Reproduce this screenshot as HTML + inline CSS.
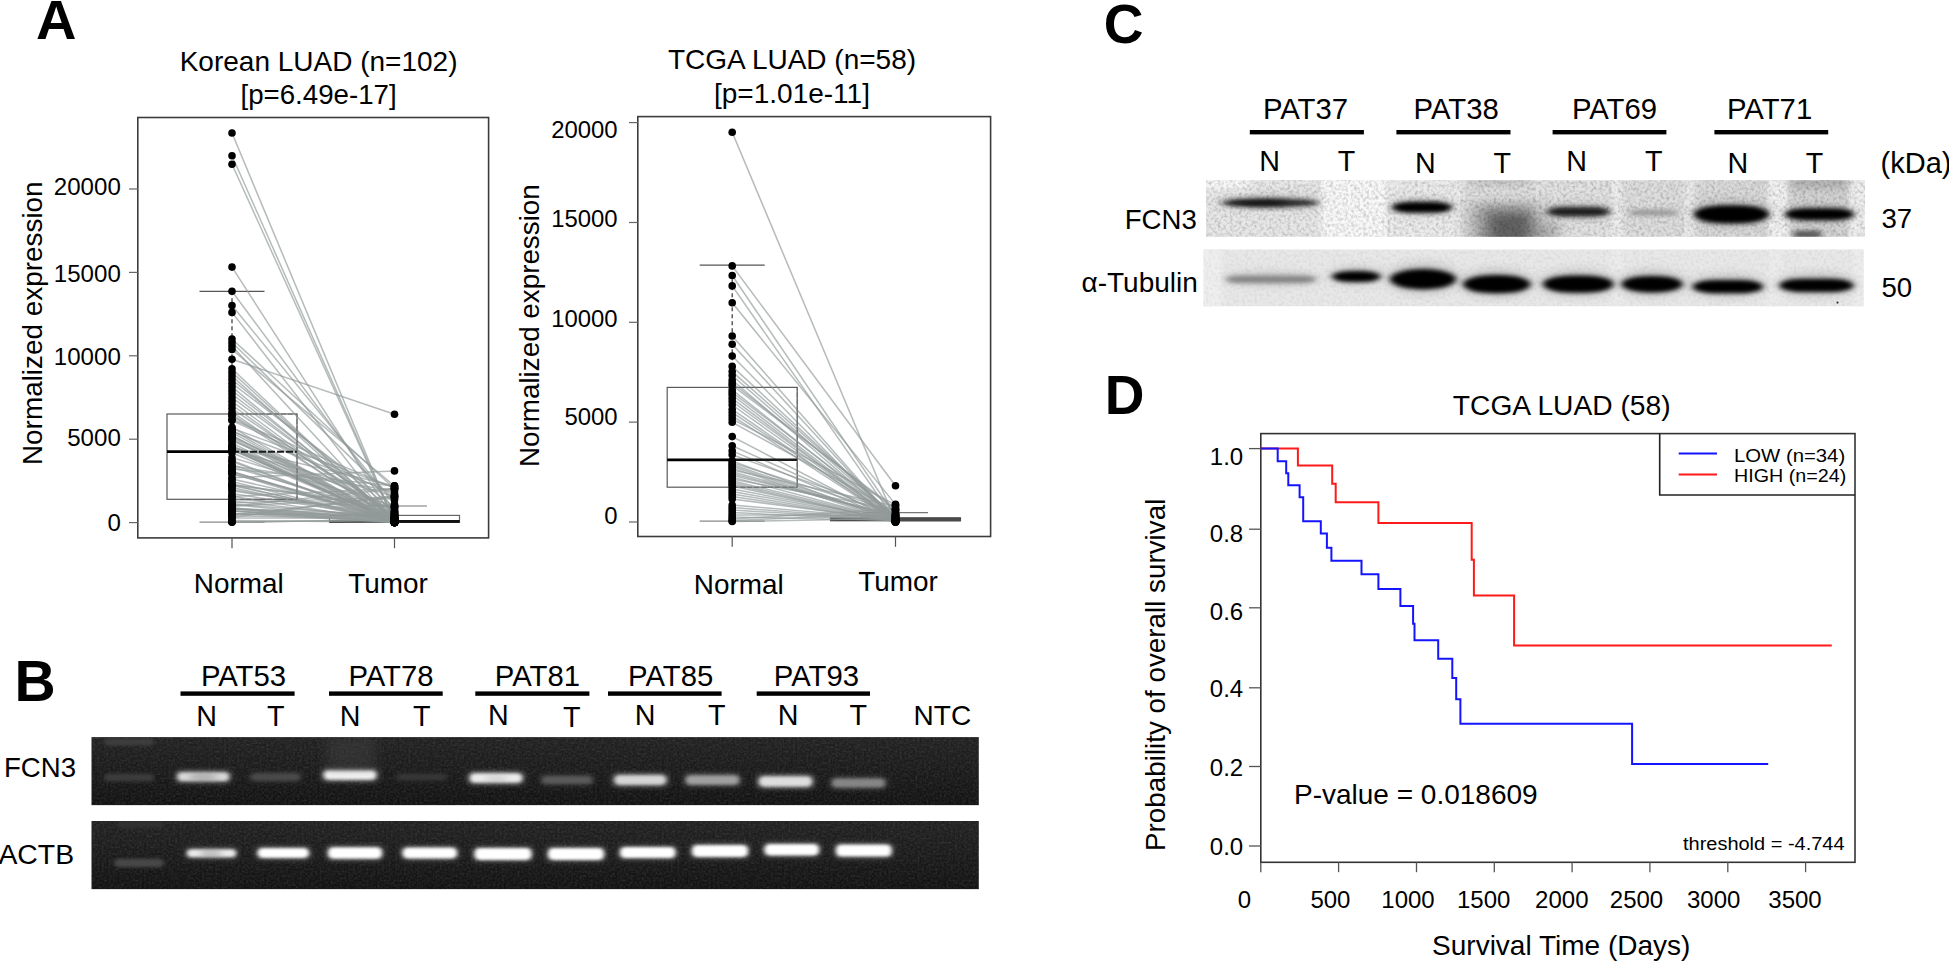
<!DOCTYPE html>
<html lang="en"><head><meta charset="utf-8"><title>FCN3 expression in LUAD</title>
<style>
html,body{margin:0;padding:0;background:#fff;}
body{width:1949px;height:962px;overflow:hidden;}
svg{display:block;font-family:"Liberation Sans", sans-serif;}
svg text{fill:#000;}
</style></head><body>
<svg width="1949" height="962" viewBox="0 0 1949 962">
<rect width="1949" height="962" fill="#fff"/>
<text x="36.0" y="39.2" font-size="56" text-anchor="start" font-weight="bold" >A</text>
<text x="14.6" y="700.8" font-size="57" text-anchor="start" font-weight="bold" >B</text>
<text x="1103.8" y="43.2" font-size="55" text-anchor="start" font-weight="bold" >C</text>
<text x="1104.8" y="414.2" font-size="55" text-anchor="start" font-weight="bold" >D</text>
<g>
<rect x="167.0" y="414.0" width="130.0" height="85.3" fill="none" stroke="#5a5a5a" stroke-width="1.2"/>
<line x1="199.5" x2="264.5" y1="291.3" y2="291.3" stroke="#555" stroke-width="1.2"/>
<line x1="199.5" x2="264.5" y1="522.1" y2="522.1" stroke="#888" stroke-width="1.2"/>
<line x1="232.0" x2="232.0" y1="291.3" y2="414.0" stroke="#333" stroke-width="1.2" stroke-dasharray="4 3"/>
<rect x="329.5" y="515.4" width="130.0" height="6.9" fill="#fff" stroke="#666" stroke-width="1.2"/>
<line x1="362.0" x2="427.0" y1="506.0" y2="506.0" stroke="#777" stroke-width="1.2"/>
<line x1="329.5" x2="459.5" y1="521.4" y2="521.4" stroke="#222" stroke-width="2.6"/>
<g fill="none" stroke="#929999" stroke-width="1.5" stroke-opacity="0.68"><path d="M232.0,133.0L394.5,522.3"/><path d="M232.0,155.7L394.5,521.6"/><path d="M232.0,164.2L394.5,522.4"/><path d="M232.0,267.1L394.5,520.1"/><path d="M232.0,291.3L394.5,510.9"/><path d="M232.0,305.5L394.5,504.2"/><path d="M232.0,312.4L394.5,521.8"/><path d="M232.0,339.0L394.5,488.8"/><path d="M232.0,342.5L394.5,500.1"/><path d="M232.0,346.0L394.5,522.1"/><path d="M232.0,349.5L394.5,486.0"/><path d="M232.0,359.3L394.5,414.2"/><path d="M232.0,412.2L394.5,522.2"/><path d="M232.0,408.6L394.5,517.8"/><path d="M232.0,405.0L394.5,522.6"/><path d="M232.0,401.3L394.5,522.0"/><path d="M232.0,397.7L394.5,515.7"/><path d="M232.0,394.1L394.5,518.2"/><path d="M232.0,390.5L394.5,517.3"/><path d="M232.0,386.9L394.5,521.2"/><path d="M232.0,383.3L394.5,507.1"/><path d="M232.0,379.6L394.5,511.7"/><path d="M232.0,376.0L394.5,522.4"/><path d="M232.0,372.4L394.5,520.7"/><path d="M232.0,368.8L394.5,522.3"/><path d="M232.0,439.5L394.5,522.1"/><path d="M232.0,446.0L394.5,522.6"/><path d="M232.0,427.2L394.5,522.4"/><path d="M232.0,449.0L394.5,522.6"/><path d="M232.0,431.5L394.5,493.1"/><path d="M232.0,437.9L394.5,522.2"/><path d="M232.0,449.5L394.5,522.1"/><path d="M232.0,432.6L394.5,521.3"/><path d="M232.0,450.3L394.5,496.2"/><path d="M232.0,435.4L394.5,520.6"/><path d="M232.0,449.1L394.5,522.1"/><path d="M232.0,448.3L394.5,521.4"/><path d="M232.0,435.7L394.5,522.6"/><path d="M232.0,420.5L394.5,494.9"/><path d="M232.0,447.0L394.5,521.8"/><path d="M232.0,443.3L394.5,521.8"/><path d="M232.0,428.1L394.5,487.9"/><path d="M232.0,416.0L394.5,519.6"/><path d="M232.0,430.0L394.5,522.3"/><path d="M232.0,436.8L394.5,510.4"/><path d="M232.0,414.9L394.5,512.3"/><path d="M232.0,450.0L394.5,521.4"/><path d="M232.0,419.3L394.5,488.1"/><path d="M232.0,440.8L394.5,507.6"/><path d="M232.0,446.3L394.5,513.3"/><path d="M232.0,447.3L394.5,485.9"/><path d="M232.0,484.6L394.5,522.6"/><path d="M232.0,460.5L394.5,522.2"/><path d="M232.0,490.7L394.5,515.7"/><path d="M232.0,471.6L394.5,521.2"/><path d="M232.0,468.9L394.5,486.0"/><path d="M232.0,481.5L394.5,522.3"/><path d="M232.0,473.2L394.5,522.3"/><path d="M232.0,496.3L394.5,521.7"/><path d="M232.0,496.4L394.5,488.4"/><path d="M232.0,489.5L394.5,517.4"/><path d="M232.0,466.9L394.5,514.6"/><path d="M232.0,478.9L394.5,515.9"/><path d="M232.0,484.3L394.5,508.3"/><path d="M232.0,471.4L394.5,520.1"/><path d="M232.0,477.7L394.5,470.9"/><path d="M232.0,485.0L394.5,506.2"/><path d="M232.0,461.5L394.5,522.0"/><path d="M232.0,466.0L394.5,490.8"/><path d="M232.0,487.6L394.5,522.4"/><path d="M232.0,471.9L394.5,521.2"/><path d="M232.0,474.3L394.5,514.0"/><path d="M232.0,457.6L394.5,506.1"/><path d="M232.0,464.6L394.5,519.1"/><path d="M232.0,485.6L394.5,520.4"/><path d="M232.0,452.7L394.5,521.1"/><path d="M232.0,493.6L394.5,518.1"/><path d="M232.0,515.1L394.5,496.9"/><path d="M232.0,506.3L394.5,488.7"/><path d="M232.0,520.6L394.5,522.2"/><path d="M232.0,513.4L394.5,522.2"/><path d="M232.0,522.3L394.5,519.6"/><path d="M232.0,508.8L394.5,522.4"/><path d="M232.0,506.1L394.5,498.5"/><path d="M232.0,511.3L394.5,517.8"/><path d="M232.0,503.0L394.5,497.1"/><path d="M232.0,517.4L394.5,495.5"/><path d="M232.0,508.0L394.5,518.1"/><path d="M232.0,510.7L394.5,521.9"/><path d="M232.0,511.1L394.5,522.6"/><path d="M232.0,514.2L394.5,513.8"/><path d="M232.0,504.0L394.5,517.0"/><path d="M232.0,500.9L394.5,519.3"/><path d="M232.0,513.7L394.5,517.9"/><path d="M232.0,508.9L394.5,514.4"/><path d="M232.0,522.0L394.5,519.7"/><path d="M232.0,507.9L394.5,521.4"/><path d="M232.0,509.3L394.5,517.9"/><path d="M232.0,499.5L394.5,506.8"/><path d="M232.0,504.5L394.5,521.7"/><path d="M232.0,518.0L394.5,518.2"/><path d="M232.0,515.8L394.5,518.5"/></g>
<line x1="167.0" x2="232.0" y1="451.7" y2="451.7" stroke="#000" stroke-width="2.8"/>
<line x1="232.0" x2="297.0" y1="451.7" y2="451.7" stroke="#1a1a1a" stroke-width="2.0" stroke-dasharray="7 2"/>
<path d="M232.0,414.0H297.0V499.3H232.0" fill="none" stroke="#666" stroke-width="1" stroke-dasharray="5 2" opacity="0.8"/>
<line x1="394.5" x2="459.5" y1="521.4" y2="521.4" stroke="#111" stroke-width="2.8"/>
<g fill="#000"><circle cx="232.0" cy="133.0" r="3.8"/><circle cx="232.0" cy="155.7" r="3.8"/><circle cx="232.0" cy="164.2" r="3.8"/><circle cx="232.0" cy="267.1" r="3.8"/><circle cx="232.0" cy="291.3" r="3.8"/><circle cx="232.0" cy="305.5" r="3.8"/><circle cx="232.0" cy="312.4" r="3.8"/><circle cx="232.0" cy="339.0" r="3.8"/><circle cx="232.0" cy="342.5" r="3.8"/><circle cx="232.0" cy="346.0" r="3.8"/><circle cx="232.0" cy="349.5" r="3.8"/><circle cx="232.0" cy="359.3" r="3.8"/><circle cx="232.0" cy="412.2" r="3.8"/><circle cx="232.0" cy="408.6" r="3.8"/><circle cx="232.0" cy="405.0" r="3.8"/><circle cx="232.0" cy="401.3" r="3.8"/><circle cx="232.0" cy="397.7" r="3.8"/><circle cx="232.0" cy="394.1" r="3.8"/><circle cx="232.0" cy="390.5" r="3.8"/><circle cx="232.0" cy="386.9" r="3.8"/><circle cx="232.0" cy="383.3" r="3.8"/><circle cx="232.0" cy="379.6" r="3.8"/><circle cx="232.0" cy="376.0" r="3.8"/><circle cx="232.0" cy="372.4" r="3.8"/><circle cx="232.0" cy="368.8" r="3.8"/><circle cx="232.0" cy="439.5" r="3.8"/><circle cx="232.0" cy="446.0" r="3.8"/><circle cx="232.0" cy="427.2" r="3.8"/><circle cx="232.0" cy="449.0" r="3.8"/><circle cx="232.0" cy="431.5" r="3.8"/><circle cx="232.0" cy="437.9" r="3.8"/><circle cx="232.0" cy="449.5" r="3.8"/><circle cx="232.0" cy="432.6" r="3.8"/><circle cx="232.0" cy="450.3" r="3.8"/><circle cx="232.0" cy="435.4" r="3.8"/><circle cx="232.0" cy="449.1" r="3.8"/><circle cx="232.0" cy="448.3" r="3.8"/><circle cx="232.0" cy="435.7" r="3.8"/><circle cx="232.0" cy="420.5" r="3.8"/><circle cx="232.0" cy="447.0" r="3.8"/><circle cx="232.0" cy="443.3" r="3.8"/><circle cx="232.0" cy="428.1" r="3.8"/><circle cx="232.0" cy="416.0" r="3.8"/><circle cx="232.0" cy="430.0" r="3.8"/><circle cx="232.0" cy="436.8" r="3.8"/><circle cx="232.0" cy="414.9" r="3.8"/><circle cx="232.0" cy="450.0" r="3.8"/><circle cx="232.0" cy="419.3" r="3.8"/><circle cx="232.0" cy="440.8" r="3.8"/><circle cx="232.0" cy="446.3" r="3.8"/><circle cx="232.0" cy="447.3" r="3.8"/><circle cx="232.0" cy="484.6" r="3.8"/><circle cx="232.0" cy="460.5" r="3.8"/><circle cx="232.0" cy="490.7" r="3.8"/><circle cx="232.0" cy="471.6" r="3.8"/><circle cx="232.0" cy="468.9" r="3.8"/><circle cx="232.0" cy="481.5" r="3.8"/><circle cx="232.0" cy="473.2" r="3.8"/><circle cx="232.0" cy="496.3" r="3.8"/><circle cx="232.0" cy="496.4" r="3.8"/><circle cx="232.0" cy="489.5" r="3.8"/><circle cx="232.0" cy="466.9" r="3.8"/><circle cx="232.0" cy="478.9" r="3.8"/><circle cx="232.0" cy="484.3" r="3.8"/><circle cx="232.0" cy="471.4" r="3.8"/><circle cx="232.0" cy="477.7" r="3.8"/><circle cx="232.0" cy="485.0" r="3.8"/><circle cx="232.0" cy="461.5" r="3.8"/><circle cx="232.0" cy="466.0" r="3.8"/><circle cx="232.0" cy="487.6" r="3.8"/><circle cx="232.0" cy="471.9" r="3.8"/><circle cx="232.0" cy="474.3" r="3.8"/><circle cx="232.0" cy="457.6" r="3.8"/><circle cx="232.0" cy="464.6" r="3.8"/><circle cx="232.0" cy="485.6" r="3.8"/><circle cx="232.0" cy="452.7" r="3.8"/><circle cx="232.0" cy="493.6" r="3.8"/><circle cx="232.0" cy="515.1" r="3.8"/><circle cx="232.0" cy="506.3" r="3.8"/><circle cx="232.0" cy="520.6" r="3.8"/><circle cx="232.0" cy="513.4" r="3.8"/><circle cx="232.0" cy="522.3" r="3.8"/><circle cx="232.0" cy="508.8" r="3.8"/><circle cx="232.0" cy="506.1" r="3.8"/><circle cx="232.0" cy="511.3" r="3.8"/><circle cx="232.0" cy="503.0" r="3.8"/><circle cx="232.0" cy="517.4" r="3.8"/><circle cx="232.0" cy="508.0" r="3.8"/><circle cx="232.0" cy="510.7" r="3.8"/><circle cx="232.0" cy="511.1" r="3.8"/><circle cx="232.0" cy="514.2" r="3.8"/><circle cx="232.0" cy="504.0" r="3.8"/><circle cx="232.0" cy="500.9" r="3.8"/><circle cx="232.0" cy="513.7" r="3.8"/><circle cx="232.0" cy="508.9" r="3.8"/><circle cx="232.0" cy="522.0" r="3.8"/><circle cx="232.0" cy="507.9" r="3.8"/><circle cx="232.0" cy="509.3" r="3.8"/><circle cx="232.0" cy="499.5" r="3.8"/><circle cx="232.0" cy="504.5" r="3.8"/><circle cx="232.0" cy="518.0" r="3.8"/><circle cx="232.0" cy="515.8" r="3.8"/><circle cx="394.5" cy="522.3" r="3.8"/><circle cx="394.5" cy="521.6" r="3.8"/><circle cx="394.5" cy="522.4" r="3.8"/><circle cx="394.5" cy="520.1" r="3.8"/><circle cx="394.5" cy="510.9" r="3.8"/><circle cx="394.5" cy="504.2" r="3.8"/><circle cx="394.5" cy="521.8" r="3.8"/><circle cx="394.5" cy="488.8" r="3.8"/><circle cx="394.5" cy="500.1" r="3.8"/><circle cx="394.5" cy="522.1" r="3.8"/><circle cx="394.5" cy="486.0" r="3.8"/><circle cx="394.5" cy="414.2" r="3.8"/><circle cx="394.5" cy="522.2" r="3.8"/><circle cx="394.5" cy="517.8" r="3.8"/><circle cx="394.5" cy="522.6" r="3.8"/><circle cx="394.5" cy="522.0" r="3.8"/><circle cx="394.5" cy="515.7" r="3.8"/><circle cx="394.5" cy="518.2" r="3.8"/><circle cx="394.5" cy="517.3" r="3.8"/><circle cx="394.5" cy="521.2" r="3.8"/><circle cx="394.5" cy="507.1" r="3.8"/><circle cx="394.5" cy="511.7" r="3.8"/><circle cx="394.5" cy="522.4" r="3.8"/><circle cx="394.5" cy="520.7" r="3.8"/><circle cx="394.5" cy="522.3" r="3.8"/><circle cx="394.5" cy="522.1" r="3.8"/><circle cx="394.5" cy="522.6" r="3.8"/><circle cx="394.5" cy="522.4" r="3.8"/><circle cx="394.5" cy="522.6" r="3.8"/><circle cx="394.5" cy="493.1" r="3.8"/><circle cx="394.5" cy="522.2" r="3.8"/><circle cx="394.5" cy="522.1" r="3.8"/><circle cx="394.5" cy="521.3" r="3.8"/><circle cx="394.5" cy="496.2" r="3.8"/><circle cx="394.5" cy="520.6" r="3.8"/><circle cx="394.5" cy="522.1" r="3.8"/><circle cx="394.5" cy="521.4" r="3.8"/><circle cx="394.5" cy="522.6" r="3.8"/><circle cx="394.5" cy="494.9" r="3.8"/><circle cx="394.5" cy="521.8" r="3.8"/><circle cx="394.5" cy="521.8" r="3.8"/><circle cx="394.5" cy="487.9" r="3.8"/><circle cx="394.5" cy="519.6" r="3.8"/><circle cx="394.5" cy="522.3" r="3.8"/><circle cx="394.5" cy="510.4" r="3.8"/><circle cx="394.5" cy="512.3" r="3.8"/><circle cx="394.5" cy="521.4" r="3.8"/><circle cx="394.5" cy="488.1" r="3.8"/><circle cx="394.5" cy="507.6" r="3.8"/><circle cx="394.5" cy="513.3" r="3.8"/><circle cx="394.5" cy="485.9" r="3.8"/><circle cx="394.5" cy="522.6" r="3.8"/><circle cx="394.5" cy="522.2" r="3.8"/><circle cx="394.5" cy="515.7" r="3.8"/><circle cx="394.5" cy="521.2" r="3.8"/><circle cx="394.5" cy="486.0" r="3.8"/><circle cx="394.5" cy="522.3" r="3.8"/><circle cx="394.5" cy="522.3" r="3.8"/><circle cx="394.5" cy="521.7" r="3.8"/><circle cx="394.5" cy="488.4" r="3.8"/><circle cx="394.5" cy="517.4" r="3.8"/><circle cx="394.5" cy="514.6" r="3.8"/><circle cx="394.5" cy="515.9" r="3.8"/><circle cx="394.5" cy="508.3" r="3.8"/><circle cx="394.5" cy="520.1" r="3.8"/><circle cx="394.5" cy="470.9" r="3.8"/><circle cx="394.5" cy="506.2" r="3.8"/><circle cx="394.5" cy="522.0" r="3.8"/><circle cx="394.5" cy="490.8" r="3.8"/><circle cx="394.5" cy="522.4" r="3.8"/><circle cx="394.5" cy="521.2" r="3.8"/><circle cx="394.5" cy="514.0" r="3.8"/><circle cx="394.5" cy="506.1" r="3.8"/><circle cx="394.5" cy="519.1" r="3.8"/><circle cx="394.5" cy="520.4" r="3.8"/><circle cx="394.5" cy="521.1" r="3.8"/><circle cx="394.5" cy="518.1" r="3.8"/><circle cx="394.5" cy="496.9" r="3.8"/><circle cx="394.5" cy="488.7" r="3.8"/><circle cx="394.5" cy="522.2" r="3.8"/><circle cx="394.5" cy="522.2" r="3.8"/><circle cx="394.5" cy="519.6" r="3.8"/><circle cx="394.5" cy="522.4" r="3.8"/><circle cx="394.5" cy="498.5" r="3.8"/><circle cx="394.5" cy="517.8" r="3.8"/><circle cx="394.5" cy="497.1" r="3.8"/><circle cx="394.5" cy="495.5" r="3.8"/><circle cx="394.5" cy="518.1" r="3.8"/><circle cx="394.5" cy="521.9" r="3.8"/><circle cx="394.5" cy="522.6" r="3.8"/><circle cx="394.5" cy="513.8" r="3.8"/><circle cx="394.5" cy="517.0" r="3.8"/><circle cx="394.5" cy="519.3" r="3.8"/><circle cx="394.5" cy="517.9" r="3.8"/><circle cx="394.5" cy="514.4" r="3.8"/><circle cx="394.5" cy="519.7" r="3.8"/><circle cx="394.5" cy="521.4" r="3.8"/><circle cx="394.5" cy="517.9" r="3.8"/><circle cx="394.5" cy="506.8" r="3.8"/><circle cx="394.5" cy="521.7" r="3.8"/><circle cx="394.5" cy="518.2" r="3.8"/><circle cx="394.5" cy="518.5" r="3.8"/></g>
<rect x="137.8" y="117.5" width="350.8" height="420.4" fill="none" stroke="#3c3c3c" stroke-width="1.6"/>
<line x1="232.0" x2="232.0" y1="537.9" y2="548.2" stroke="#555" stroke-width="1.2"/>
<line x1="394.5" x2="394.5" y1="537.9" y2="548.2" stroke="#555" stroke-width="1.2"/>
</g>
<line x1="129" x2="137.8" y1="189.0" y2="189.0" stroke="#666" stroke-width="1.2"/>
<text x="120.8" y="195.2" font-size="24.1" text-anchor="end" font-weight="normal" >20000</text>
<line x1="129" x2="137.8" y1="272.4" y2="272.4" stroke="#666" stroke-width="1.2"/>
<text x="120.8" y="282.0" font-size="24.1" text-anchor="end" font-weight="normal" >15000</text>
<line x1="129" x2="137.8" y1="355.8" y2="355.8" stroke="#666" stroke-width="1.2"/>
<text x="120.8" y="364.5" font-size="24.1" text-anchor="end" font-weight="normal" >10000</text>
<line x1="129" x2="137.8" y1="439.2" y2="439.2" stroke="#666" stroke-width="1.2"/>
<text x="120.8" y="446.4" font-size="24.1" text-anchor="end" font-weight="normal" >5000</text>
<line x1="129" x2="137.8" y1="522.6" y2="522.6" stroke="#666" stroke-width="1.2"/>
<text x="120.8" y="530.9" font-size="24.1" text-anchor="end" font-weight="normal" >0</text>
<text x="318.6" y="70.7" font-size="28.0" text-anchor="middle" font-weight="normal" >Korean LUAD (n=102)</text>
<text x="318.6" y="104.2" font-size="27.7" text-anchor="middle" font-weight="normal" >[p=6.49e-17]</text>
<text x="238.8" y="592.8" font-size="27.9" text-anchor="middle" font-weight="normal" >Normal</text>
<text x="388.0" y="592.8" font-size="27.9" text-anchor="middle" font-weight="normal" >Tumor</text>
<text transform="translate(42.2,323.2) rotate(-90)" font-size="27.9" text-anchor="middle" >Normalized expression</text>
<g>
<rect x="667.2" y="387.4" width="130.0" height="99.8" fill="none" stroke="#5a5a5a" stroke-width="1.2"/>
<line x1="699.7" x2="764.7" y1="265.2" y2="265.2" stroke="#555" stroke-width="1.2"/>
<line x1="699.7" x2="764.7" y1="521.2" y2="521.2" stroke="#888" stroke-width="1.2"/>
<line x1="732.2" x2="732.2" y1="265.2" y2="387.4" stroke="#333" stroke-width="1.2" stroke-dasharray="4 3"/>
<rect x="830.5" y="517.8" width="130.0" height="3.0" fill="#fff" stroke="#666" stroke-width="1.2"/>
<line x1="863.0" x2="928.0" y1="512.7" y2="512.7" stroke="#777" stroke-width="1.2"/>
<line x1="830.5" x2="960.5" y1="519.4" y2="519.4" stroke="#222" stroke-width="2.6"/>
<g fill="none" stroke="#929999" stroke-width="1.5" stroke-opacity="0.68"><path d="M732.2,132.3L895.5,521.2"/><path d="M732.2,265.9L895.5,485.8"/><path d="M732.2,275.5L895.5,516.0"/><path d="M732.2,285.9L895.5,520.4"/><path d="M732.2,302.8L895.5,504.4"/><path d="M732.2,336.0L895.5,521.7"/><path d="M732.2,344.3L895.5,521.8"/><path d="M732.2,356.0L895.5,521.8"/><path d="M732.2,366.4L895.5,517.6"/><path d="M732.2,371.6L895.5,516.3"/><path d="M732.2,375.5L895.5,517.9"/><path d="M732.2,380.0L895.5,519.9"/><path d="M732.2,383.0L895.5,510.3"/><path d="M732.2,385.4L895.5,508.6"/><path d="M732.2,389.8L895.5,519.6"/><path d="M732.2,392.5L895.5,516.3"/><path d="M732.2,395.0L895.5,520.8"/><path d="M732.2,398.3L895.5,521.5"/><path d="M732.2,401.5L895.5,520.3"/><path d="M732.2,405.0L895.5,520.7"/><path d="M732.2,409.3L895.5,522.0"/><path d="M732.2,412.5L895.5,520.5"/><path d="M732.2,415.8L895.5,521.8"/><path d="M732.2,419.0L895.5,504.9"/><path d="M732.2,422.3L895.5,511.4"/><path d="M732.2,436.6L895.5,521.9"/><path d="M732.2,445.7L895.5,518.9"/><path d="M732.2,450.9L895.5,521.0"/><path d="M732.2,454.8L895.5,513.2"/><path d="M732.2,460.9L895.5,521.6"/><path d="M732.2,462.7L895.5,514.4"/><path d="M732.2,464.5L895.5,519.4"/><path d="M732.2,466.3L895.5,520.4"/><path d="M732.2,468.1L895.5,521.8"/><path d="M732.2,469.9L895.5,506.3"/><path d="M732.2,471.7L895.5,516.6"/><path d="M732.2,473.5L895.5,516.7"/><path d="M732.2,475.3L895.5,514.9"/><path d="M732.2,477.1L895.5,520.7"/><path d="M732.2,478.9L895.5,509.8"/><path d="M732.2,480.7L895.5,520.7"/><path d="M732.2,482.5L895.5,521.7"/><path d="M732.2,484.3L895.5,521.9"/><path d="M732.2,486.1L895.5,521.3"/><path d="M732.2,489.0L895.5,520.2"/><path d="M732.2,491.5L895.5,520.8"/><path d="M732.2,494.0L895.5,521.2"/><path d="M732.2,496.5L895.5,521.4"/><path d="M732.2,499.0L895.5,520.2"/><path d="M732.2,505.0L895.5,519.1"/><path d="M732.2,507.5L895.5,519.8"/><path d="M732.2,510.0L895.5,520.0"/><path d="M732.2,512.5L895.5,520.8"/><path d="M732.2,515.0L895.5,515.2"/><path d="M732.2,517.0L895.5,520.4"/><path d="M732.2,519.0L895.5,509.1"/><path d="M732.2,520.5L895.5,513.8"/><path d="M732.2,521.5L895.5,518.6"/></g>
<line x1="667.2" x2="732.2" y1="459.8" y2="459.8" stroke="#000" stroke-width="2.8"/>
<line x1="732.2" x2="797.2" y1="459.8" y2="459.8" stroke="#1a1a1a" stroke-width="2.6" stroke-dasharray="none"/>
<path d="M732.2,387.4H797.2V487.2H732.2" fill="none" stroke="#666" stroke-width="1" stroke-dasharray="5 2" opacity="0.8"/>
<line x1="895.5" x2="960.5" y1="519.4" y2="519.4" stroke="#4a4a4a" stroke-width="3.8"/>
<g fill="#000"><circle cx="732.2" cy="132.3" r="3.8"/><circle cx="732.2" cy="265.9" r="3.8"/><circle cx="732.2" cy="275.5" r="3.8"/><circle cx="732.2" cy="285.9" r="3.8"/><circle cx="732.2" cy="302.8" r="3.8"/><circle cx="732.2" cy="336.0" r="3.8"/><circle cx="732.2" cy="344.3" r="3.8"/><circle cx="732.2" cy="356.0" r="3.8"/><circle cx="732.2" cy="366.4" r="3.8"/><circle cx="732.2" cy="371.6" r="3.8"/><circle cx="732.2" cy="375.5" r="3.8"/><circle cx="732.2" cy="380.0" r="3.8"/><circle cx="732.2" cy="383.0" r="3.8"/><circle cx="732.2" cy="385.4" r="3.8"/><circle cx="732.2" cy="389.8" r="3.8"/><circle cx="732.2" cy="392.5" r="3.8"/><circle cx="732.2" cy="395.0" r="3.8"/><circle cx="732.2" cy="398.3" r="3.8"/><circle cx="732.2" cy="401.5" r="3.8"/><circle cx="732.2" cy="405.0" r="3.8"/><circle cx="732.2" cy="409.3" r="3.8"/><circle cx="732.2" cy="412.5" r="3.8"/><circle cx="732.2" cy="415.8" r="3.8"/><circle cx="732.2" cy="419.0" r="3.8"/><circle cx="732.2" cy="422.3" r="3.8"/><circle cx="732.2" cy="436.6" r="3.8"/><circle cx="732.2" cy="445.7" r="3.8"/><circle cx="732.2" cy="450.9" r="3.8"/><circle cx="732.2" cy="454.8" r="3.8"/><circle cx="732.2" cy="460.9" r="3.8"/><circle cx="732.2" cy="462.7" r="3.8"/><circle cx="732.2" cy="464.5" r="3.8"/><circle cx="732.2" cy="466.3" r="3.8"/><circle cx="732.2" cy="468.1" r="3.8"/><circle cx="732.2" cy="469.9" r="3.8"/><circle cx="732.2" cy="471.7" r="3.8"/><circle cx="732.2" cy="473.5" r="3.8"/><circle cx="732.2" cy="475.3" r="3.8"/><circle cx="732.2" cy="477.1" r="3.8"/><circle cx="732.2" cy="478.9" r="3.8"/><circle cx="732.2" cy="480.7" r="3.8"/><circle cx="732.2" cy="482.5" r="3.8"/><circle cx="732.2" cy="484.3" r="3.8"/><circle cx="732.2" cy="486.1" r="3.8"/><circle cx="732.2" cy="489.0" r="3.8"/><circle cx="732.2" cy="491.5" r="3.8"/><circle cx="732.2" cy="494.0" r="3.8"/><circle cx="732.2" cy="496.5" r="3.8"/><circle cx="732.2" cy="499.0" r="3.8"/><circle cx="732.2" cy="505.0" r="3.8"/><circle cx="732.2" cy="507.5" r="3.8"/><circle cx="732.2" cy="510.0" r="3.8"/><circle cx="732.2" cy="512.5" r="3.8"/><circle cx="732.2" cy="515.0" r="3.8"/><circle cx="732.2" cy="517.0" r="3.8"/><circle cx="732.2" cy="519.0" r="3.8"/><circle cx="732.2" cy="520.5" r="3.8"/><circle cx="732.2" cy="521.5" r="3.8"/><circle cx="895.5" cy="521.2" r="3.8"/><circle cx="895.5" cy="485.8" r="3.8"/><circle cx="895.5" cy="516.0" r="3.8"/><circle cx="895.5" cy="520.4" r="3.8"/><circle cx="895.5" cy="504.4" r="3.8"/><circle cx="895.5" cy="521.7" r="3.8"/><circle cx="895.5" cy="521.8" r="3.8"/><circle cx="895.5" cy="521.8" r="3.8"/><circle cx="895.5" cy="517.6" r="3.8"/><circle cx="895.5" cy="516.3" r="3.8"/><circle cx="895.5" cy="517.9" r="3.8"/><circle cx="895.5" cy="519.9" r="3.8"/><circle cx="895.5" cy="510.3" r="3.8"/><circle cx="895.5" cy="508.6" r="3.8"/><circle cx="895.5" cy="519.6" r="3.8"/><circle cx="895.5" cy="516.3" r="3.8"/><circle cx="895.5" cy="520.8" r="3.8"/><circle cx="895.5" cy="521.5" r="3.8"/><circle cx="895.5" cy="520.3" r="3.8"/><circle cx="895.5" cy="520.7" r="3.8"/><circle cx="895.5" cy="522.0" r="3.8"/><circle cx="895.5" cy="520.5" r="3.8"/><circle cx="895.5" cy="521.8" r="3.8"/><circle cx="895.5" cy="504.9" r="3.8"/><circle cx="895.5" cy="511.4" r="3.8"/><circle cx="895.5" cy="521.9" r="3.8"/><circle cx="895.5" cy="518.9" r="3.8"/><circle cx="895.5" cy="521.0" r="3.8"/><circle cx="895.5" cy="513.2" r="3.8"/><circle cx="895.5" cy="521.6" r="3.8"/><circle cx="895.5" cy="514.4" r="3.8"/><circle cx="895.5" cy="519.4" r="3.8"/><circle cx="895.5" cy="520.4" r="3.8"/><circle cx="895.5" cy="521.8" r="3.8"/><circle cx="895.5" cy="506.3" r="3.8"/><circle cx="895.5" cy="516.6" r="3.8"/><circle cx="895.5" cy="516.7" r="3.8"/><circle cx="895.5" cy="514.9" r="3.8"/><circle cx="895.5" cy="520.7" r="3.8"/><circle cx="895.5" cy="509.8" r="3.8"/><circle cx="895.5" cy="520.7" r="3.8"/><circle cx="895.5" cy="521.7" r="3.8"/><circle cx="895.5" cy="521.9" r="3.8"/><circle cx="895.5" cy="521.3" r="3.8"/><circle cx="895.5" cy="520.2" r="3.8"/><circle cx="895.5" cy="520.8" r="3.8"/><circle cx="895.5" cy="521.2" r="3.8"/><circle cx="895.5" cy="521.4" r="3.8"/><circle cx="895.5" cy="520.2" r="3.8"/><circle cx="895.5" cy="519.1" r="3.8"/><circle cx="895.5" cy="519.8" r="3.8"/><circle cx="895.5" cy="520.0" r="3.8"/><circle cx="895.5" cy="520.8" r="3.8"/><circle cx="895.5" cy="515.2" r="3.8"/><circle cx="895.5" cy="520.4" r="3.8"/><circle cx="895.5" cy="509.1" r="3.8"/><circle cx="895.5" cy="513.8" r="3.8"/><circle cx="895.5" cy="518.6" r="3.8"/></g>
<rect x="637.8" y="116.6" width="352.8" height="419.9" fill="none" stroke="#3c3c3c" stroke-width="1.6"/>
<line x1="732.2" x2="732.2" y1="536.5" y2="546.8" stroke="#555" stroke-width="1.2"/>
<line x1="895.5" x2="895.5" y1="536.5" y2="546.8" stroke="#555" stroke-width="1.2"/>
</g>
<line x1="629" x2="637.8" y1="122.6" y2="122.6" stroke="#666" stroke-width="1.2"/>
<text x="617.6" y="137.6" font-size="23.9" text-anchor="end" font-weight="normal" >20000</text>
<line x1="629" x2="637.8" y1="222.5" y2="222.5" stroke="#666" stroke-width="1.2"/>
<text x="617.6" y="227.3" font-size="23.9" text-anchor="end" font-weight="normal" >15000</text>
<line x1="629" x2="637.8" y1="322.3" y2="322.3" stroke="#666" stroke-width="1.2"/>
<text x="617.6" y="327.0" font-size="23.9" text-anchor="end" font-weight="normal" >10000</text>
<line x1="629" x2="637.8" y1="422.1" y2="422.1" stroke="#666" stroke-width="1.2"/>
<text x="617.6" y="424.8" font-size="23.9" text-anchor="end" font-weight="normal" >5000</text>
<line x1="629" x2="637.8" y1="522.0" y2="522.0" stroke="#666" stroke-width="1.2"/>
<text x="617.6" y="523.8" font-size="23.9" text-anchor="end" font-weight="normal" >0</text>
<text x="792.0" y="68.9" font-size="28.0" text-anchor="middle" font-weight="normal" >TCGA LUAD (n=58)</text>
<text x="792.0" y="102.5" font-size="28.0" text-anchor="middle" font-weight="normal" >[p=1.01e-11]</text>
<text x="738.8" y="594.4" font-size="27.9" text-anchor="middle" font-weight="normal" >Normal</text>
<text x="898.0" y="591.0" font-size="27.9" text-anchor="middle" font-weight="normal" >Tumor</text>
<text transform="translate(538.6,325.6) rotate(-90)" font-size="27.8" text-anchor="middle" >Normalized expression</text>
<defs>
<filter id="b1" x="-20%" y="-100%" width="140%" height="300%"><feGaussianBlur stdDeviation="2.0 1.5"/></filter>
<filter id="b2" x="-20%" y="-100%" width="140%" height="300%"><feGaussianBlur stdDeviation="3 2"/></filter>
<filter id="b3" x="-20%" y="-100%" width="140%" height="300%"><feGaussianBlur stdDeviation="2.2 1.6"/></filter>
<filter id="b6" x="-30%" y="-100%" width="160%" height="300%"><feGaussianBlur stdDeviation="6 4"/></filter>
<filter id="b9" x="-50%" y="-100%" width="200%" height="300%"><feGaussianBlur stdDeviation="10 6"/></filter>
<filter id="noiseD" x="0" y="0" width="100%" height="100%"><feTurbulence type="fractalNoise" baseFrequency="0.45" numOctaves="2" seed="3" result="n"/><feColorMatrix in="n" type="matrix" values="0 0 0 0 1  0 0 0 0 1  0 0 0 0 1  0.13 0.13 0 0 -0.1"/></filter>
<filter id="noiseL" x="0" y="0" width="100%" height="100%"><feTurbulence type="fractalNoise" baseFrequency="0.33" numOctaves="2" seed="8" result="n"/><feColorMatrix in="n" type="matrix" values="0 0 0 0 0  0 0 0 0 0  0 0 0 0 0  0.3 0.3 0 0 -0.255"/></filter>
<linearGradient id="gelg" x1="0" y1="0" x2="0" y2="1"><stop offset="0" stop-color="#212121"/><stop offset="0.55" stop-color="#191919"/><stop offset="1" stop-color="#111"/></linearGradient>
<clipPath id="cg1"><rect x="91.3" y="737.1" width="887.6" height="68.2"/></clipPath>
<clipPath id="cg2"><rect x="91.3" y="820.9" width="887.6" height="68.4"/></clipPath>
<clipPath id="cw1"><rect x="1206" y="180.2" width="659" height="56.5"/></clipPath>
<clipPath id="cw2"><rect x="1203.6" y="249.4" width="660" height="56.8"/></clipPath>
</defs>
<g clip-path="url(#cg1)">
<rect x="91.3" y="737.1" width="887.6" height="68.4" fill="url(#gelg)"/>
<rect x="91.3" y="737.1" width="887.6" height="68.4" filter="url(#noiseD)"/>
<rect x="104.0" y="738.5" width="50.0" height="7.0" rx="3.5" fill="#3c3c3c" opacity="1" filter="url(#b3)"/>
<rect x="104.0" y="773.5" width="50.0" height="8.0" rx="4.0" fill="#3a3a3a" opacity="1" filter="url(#b3)"/>
<rect x="175.5" y="770.0" width="55.5" height="13.5" rx="5.0" fill="#d8d8d8" opacity="0.35" filter="url(#b2)"/>
<rect x="177.5" y="772.5" width="51.5" height="8.5" rx="4.2" fill="#d8d8d8" opacity="1" filter="url(#b1)"/>
<rect x="249.0" y="771.0" width="53.0" height="12.0" rx="5.0" fill="#4a4a4a" opacity="0.35" filter="url(#b2)"/>
<rect x="251.0" y="773.5" width="49.0" height="7.0" rx="3.5" fill="#4a4a4a" opacity="1" filter="url(#b1)"/>
<rect x="322.0" y="768.0" width="56.0" height="14.0" rx="5.0" fill="#f4f4f4" opacity="0.35" filter="url(#b2)"/>
<rect x="324.0" y="770.5" width="52.0" height="9.0" rx="4.5" fill="#f4f4f4" opacity="1" filter="url(#b1)"/>
<rect x="395.0" y="771.5" width="53.0" height="11.0" rx="5.0" fill="#343434" opacity="0.35" filter="url(#b2)"/>
<rect x="397.0" y="774.0" width="49.0" height="6.0" rx="3.0" fill="#343434" opacity="1" filter="url(#b1)"/>
<rect x="468.0" y="771.0" width="56.0" height="14.0" rx="5.0" fill="#ececec" opacity="0.35" filter="url(#b2)"/>
<rect x="470.0" y="773.5" width="52.0" height="9.0" rx="4.5" fill="#ececec" opacity="1" filter="url(#b1)"/>
<rect x="540.0" y="773.8" width="54.0" height="12.5" rx="5.0" fill="#5a5a5a" opacity="0.35" filter="url(#b2)"/>
<rect x="542.0" y="776.2" width="50.0" height="7.5" rx="3.8" fill="#5a5a5a" opacity="1" filter="url(#b1)"/>
<rect x="612.5" y="772.8" width="55.5" height="14.5" rx="5.0" fill="#d6d6d6" opacity="0.35" filter="url(#b2)"/>
<rect x="614.5" y="775.2" width="51.5" height="9.5" rx="4.8" fill="#d6d6d6" opacity="1" filter="url(#b1)"/>
<rect x="684.0" y="773.0" width="57.0" height="14.0" rx="5.0" fill="#a0a0a0" opacity="0.35" filter="url(#b2)"/>
<rect x="686.0" y="775.5" width="53.0" height="9.0" rx="4.5" fill="#a0a0a0" opacity="1" filter="url(#b1)"/>
<rect x="757.0" y="774.0" width="57.0" height="15.0" rx="5.0" fill="#dedede" opacity="0.35" filter="url(#b2)"/>
<rect x="759.0" y="776.5" width="53.0" height="10.0" rx="5.0" fill="#dedede" opacity="1" filter="url(#b1)"/>
<rect x="830.0" y="776.2" width="57.0" height="13.5" rx="5.0" fill="#858585" opacity="0.35" filter="url(#b2)"/>
<rect x="832.0" y="778.8" width="53.0" height="8.5" rx="4.2" fill="#858585" opacity="1" filter="url(#b1)"/>
<ellipse cx="203" cy="777" rx="14" ry="4" fill="#555" opacity="0.28" filter="url(#b2)"/>
<ellipse cx="496" cy="778.5" rx="12" ry="3" fill="#666" opacity="0.18" filter="url(#b2)"/>
<rect x="326" y="738" width="50" height="32" fill="#444" opacity="0.45" filter="url(#b6)"/>
</g>
<g clip-path="url(#cg2)">
<rect x="91.3" y="820.9" width="887.6" height="68.6" fill="url(#gelg)"/>
<rect x="91.3" y="820.9" width="887.6" height="68.6" filter="url(#noiseD)"/>
<rect x="118.0" y="821.5" width="46.0" height="6.0" rx="3.0" fill="#303030" opacity="1" filter="url(#b3)"/>
<rect x="114.0" y="858.8" width="50.0" height="8.5" rx="4.2" fill="#474747" opacity="1" filter="url(#b3)"/>
<rect x="185.0" y="846.5" width="53.0" height="13.5" rx="5.0" fill="#999" opacity="0.3" filter="url(#b2)"/>
<rect x="187.0" y="849.3" width="49.0" height="8.0" rx="4.0" fill="#eaeaea" opacity="1" filter="url(#b1)"/>
<rect x="255.5" y="845.2" width="55.5" height="15.5" rx="5.0" fill="#999" opacity="0.3" filter="url(#b2)"/>
<rect x="257.5" y="848.0" width="51.5" height="10.0" rx="5.0" fill="#fff" opacity="1" filter="url(#b1)"/>
<rect x="326.0" y="844.5" width="58.0" height="17.0" rx="5.0" fill="#999" opacity="0.3" filter="url(#b2)"/>
<rect x="328.0" y="847.2" width="54.0" height="11.5" rx="5.0" fill="#fff" opacity="1" filter="url(#b1)"/>
<rect x="400.5" y="844.8" width="58.5" height="16.5" rx="5.0" fill="#999" opacity="0.3" filter="url(#b2)"/>
<rect x="402.5" y="847.5" width="54.5" height="11.0" rx="5.0" fill="#fff" opacity="1" filter="url(#b1)"/>
<rect x="472.5" y="845.2" width="61.0" height="17.5" rx="5.0" fill="#999" opacity="0.3" filter="url(#b2)"/>
<rect x="474.5" y="848.0" width="57.0" height="12.0" rx="5.0" fill="#fff" opacity="1" filter="url(#b1)"/>
<rect x="546.0" y="845.2" width="60.0" height="17.5" rx="5.0" fill="#999" opacity="0.3" filter="url(#b2)"/>
<rect x="548.0" y="848.0" width="56.0" height="12.0" rx="5.0" fill="#fff" opacity="1" filter="url(#b1)"/>
<rect x="618.0" y="844.4" width="59.5" height="16.5" rx="5.0" fill="#999" opacity="0.3" filter="url(#b2)"/>
<rect x="620.0" y="847.1" width="55.5" height="11.0" rx="5.0" fill="#fff" opacity="1" filter="url(#b1)"/>
<rect x="690.0" y="842.2" width="60.0" height="17.5" rx="5.0" fill="#999" opacity="0.3" filter="url(#b2)"/>
<rect x="692.0" y="845.0" width="56.0" height="12.0" rx="5.0" fill="#fff" opacity="1" filter="url(#b1)"/>
<rect x="762.5" y="841.3" width="58.5" height="17.0" rx="5.0" fill="#999" opacity="0.3" filter="url(#b2)"/>
<rect x="764.5" y="844.0" width="54.5" height="11.5" rx="5.0" fill="#fff" opacity="1" filter="url(#b1)"/>
<rect x="834.0" y="841.9" width="59.5" height="17.5" rx="5.0" fill="#999" opacity="0.3" filter="url(#b2)"/>
<rect x="836.0" y="844.6" width="55.5" height="12.0" rx="5.0" fill="#fff" opacity="1" filter="url(#b1)"/>
<ellipse cx="211" cy="853.5" rx="11" ry="4" fill="#666" opacity="0.32" filter="url(#b2)"/>
</g>
<text x="4.0" y="776.6" font-size="27.6" text-anchor="start" font-weight="normal" >FCN3</text>
<text x="-1.6" y="864.4" font-size="28.4" text-anchor="start" font-weight="normal" >ACTB</text>
<text x="243.5" y="685.7" font-size="29.3" text-anchor="middle" font-weight="normal" >PAT53</text>
<rect x="180.5" y="691.4" width="114.1" height="4.4" fill="#000"/>
<text x="391.0" y="685.7" font-size="29.3" text-anchor="middle" font-weight="normal" >PAT78</text>
<rect x="329.0" y="691.4" width="113.7" height="4.4" fill="#000"/>
<text x="537.4" y="685.7" font-size="29.3" text-anchor="middle" font-weight="normal" >PAT81</text>
<rect x="475.3" y="691.4" width="114.1" height="4.4" fill="#000"/>
<text x="670.7" y="685.7" font-size="29.3" text-anchor="middle" font-weight="normal" >PAT85</text>
<rect x="608.0" y="691.4" width="113.6" height="4.4" fill="#000"/>
<text x="816.4" y="685.7" font-size="29.3" text-anchor="middle" font-weight="normal" >PAT93</text>
<rect x="756.7" y="691.4" width="113.3" height="4.4" fill="#000"/>
<text x="206.5" y="726.0" font-size="28.7" text-anchor="middle" font-weight="normal" >N</text>
<text x="350.2" y="726.0" font-size="28.7" text-anchor="middle" font-weight="normal" >N</text>
<text x="498.4" y="725.3" font-size="28.7" text-anchor="middle" font-weight="normal" >N</text>
<text x="645.0" y="725.3" font-size="28.7" text-anchor="middle" font-weight="normal" >N</text>
<text x="788.0" y="725.3" font-size="28.7" text-anchor="middle" font-weight="normal" >N</text>
<text x="275.7" y="726.0" font-size="28.7" text-anchor="middle" font-weight="normal" >T</text>
<text x="421.7" y="726.0" font-size="28.7" text-anchor="middle" font-weight="normal" >T</text>
<text x="571.8" y="727.2" font-size="28.7" text-anchor="middle" font-weight="normal" >T</text>
<text x="716.8" y="725.3" font-size="28.7" text-anchor="middle" font-weight="normal" >T</text>
<text x="858.3" y="725.3" font-size="28.7" text-anchor="middle" font-weight="normal" >T</text>
<text x="913.6" y="724.8" font-size="28.0" text-anchor="start" font-weight="normal" >NTC</text>
<g clip-path="url(#cw1)">
<rect x="1200" y="176" width="670" height="66" fill="#ececec"/>
<rect x="1200" y="172" width="122" height="72" fill="#e8e8e8" filter="url(#b3)"/>
<rect x="1322" y="172" width="65" height="72" fill="#f9f9f9" filter="url(#b3)"/>
<rect x="1387" y="172" width="76" height="72" fill="#ececec" filter="url(#b3)"/>
<rect x="1463" y="172" width="74" height="72" fill="#e0e0e0" filter="url(#b3)"/>
<rect x="1537" y="172" width="76" height="72" fill="#e2e2e2" filter="url(#b3)"/>
<rect x="1613" y="172" width="9" height="72" fill="#efefef" filter="url(#b3)"/>
<rect x="1622" y="172" width="63" height="72" fill="#dedede" filter="url(#b3)"/>
<rect x="1685" y="172" width="10" height="72" fill="#ebebeb" filter="url(#b3)"/>
<rect x="1695" y="172" width="74" height="72" fill="#dadada" filter="url(#b3)"/>
<rect x="1769" y="172" width="20" height="72" fill="#f2f2f2" filter="url(#b3)"/>
<rect x="1789" y="172" width="61" height="72" fill="#d4d4d4" filter="url(#b3)"/>
<rect x="1850" y="172" width="20" height="72" fill="#f0f0f0" filter="url(#b3)"/>
<rect x="1200" y="174" width="50" height="16" fill="#fafafa" opacity="0.9" filter="url(#b6)"/>
<rect x="1790" y="176" width="58" height="12" fill="#999" opacity="0.6" filter="url(#b6)"/>
<rect x="1470" y="176" width="60" height="8" fill="#999" opacity="0.5" filter="url(#b6)"/>
<rect x="1474" y="204" width="64" height="44" fill="#555" opacity="0.55" filter="url(#b9)"/>
<rect x="1490" y="214" width="40" height="30" fill="#3a3a3a" opacity="0.55" filter="url(#b6)"/>
<rect x="1530" y="222" width="30" height="22" fill="#777" opacity="0.4" filter="url(#b6)"/>
<rect x="1206.5" y="180.2" width="660" height="56.5" filter="url(#noiseL)"/>
<ellipse cx="1270.0" cy="201.8" rx="52.0" ry="7.2" fill="#777" opacity="0.33" filter="url(#b6)"/>
<rect x="1221.0" y="198.6" width="98.0" height="8.4" rx="49.0" ry="4.2" fill="#1e1e1e" opacity="0.95" filter="url(#b2)"/>
<ellipse cx="1258" cy="203" rx="28" ry="3" fill="#000" opacity="0.5" filter="url(#b2)"/>
<ellipse cx="1422.0" cy="206.3" rx="33.0" ry="8.5" fill="#777" opacity="0.33" filter="url(#b6)"/>
<rect x="1392.0" y="201.8" width="60.0" height="11.0" rx="18.7" ry="5.5" fill="#050505" opacity="1" filter="url(#b2)"/>
<ellipse cx="1578.5" cy="210.8" rx="34.5" ry="7.7" fill="#777" opacity="0.33" filter="url(#b6)"/>
<rect x="1547.0" y="207.1" width="63.0" height="9.4" rx="15.9" ry="4.7" fill="#151515" opacity="0.95" filter="url(#b2)"/>
<rect x="1628.0" y="209.3" width="50.0" height="6.6" rx="11.2" ry="3.3" fill="#8a8a8a" opacity="0.75" filter="url(#b2)"/>
<ellipse cx="1731.5" cy="213.3" rx="40.5" ry="13.1" fill="#777" opacity="0.33" filter="url(#b6)"/>
<rect x="1694.0" y="205.2" width="75.0" height="18.2" rx="30.9" ry="9.1" fill="#000" opacity="1" filter="url(#b2)"/>
<ellipse cx="1819.5" cy="213.3" rx="37.5" ry="9.1" fill="#777" opacity="0.33" filter="url(#b6)"/>
<rect x="1785.0" y="208.2" width="69.0" height="12.1" rx="20.6" ry="6.1" fill="#000" opacity="1" filter="url(#b2)"/>
<rect x="1794" y="230.5" width="27" height="8" fill="#444" opacity="0.85" filter="url(#b2)"/>
</g>
<g clip-path="url(#cw2)">
<rect x="1200" y="246" width="670" height="64" fill="#e8e8e8"/>
<rect x="1200" y="244" width="22" height="68" fill="#efefef" filter="url(#b3)"/>
<rect x="1611" y="244" width="13" height="68" fill="#ececec" filter="url(#b3)"/>
<rect x="1768" y="244" width="14" height="68" fill="#ececec" filter="url(#b3)"/>
<rect x="1853" y="244" width="17" height="68" fill="#ededed" filter="url(#b3)"/>
<rect x="1203.8" y="249.4" width="660" height="57" filter="url(#noiseL)" opacity="0.3"/>
<ellipse cx="1271.0" cy="278.4" rx="48.0" ry="6.3" fill="#777" opacity="0.33" filter="url(#b6)"/>
<rect x="1226.0" y="276.1" width="90.0" height="6.6" rx="11.2" ry="3.3" fill="#7c7c7c" opacity="0.9" filter="url(#b2)"/>
<ellipse cx="1356.2" cy="275.6" rx="27.2" ry="8.5" fill="#777" opacity="0.33" filter="url(#b6)"/>
<rect x="1332.0" y="271.1" width="48.5" height="11.0" rx="18.7" ry="5.5" fill="#060606" opacity="1" filter="url(#b2)"/>
<ellipse cx="1423.0" cy="278.2" rx="36.0" ry="15.2" fill="#777" opacity="0.33" filter="url(#b6)"/>
<rect x="1390.0" y="269.0" width="66.0" height="20.4" rx="33.0" ry="10.2" fill="#000" opacity="1" filter="url(#b2)"/>
<ellipse cx="1496.8" cy="283.2" rx="36.8" ry="14.1" fill="#777" opacity="0.33" filter="url(#b6)"/>
<rect x="1463.0" y="275.1" width="67.5" height="18.2" rx="30.9" ry="9.1" fill="#000" opacity="1" filter="url(#b2)"/>
<ellipse cx="1578.2" cy="283.1" rx="38.2" ry="13.5" fill="#777" opacity="0.33" filter="url(#b6)"/>
<rect x="1543.0" y="275.6" width="70.5" height="17.1" rx="29.0" ry="8.5" fill="#000" opacity="1" filter="url(#b2)"/>
<ellipse cx="1652.0" cy="283.1" rx="33.5" ry="13.2" fill="#777" opacity="0.33" filter="url(#b6)"/>
<rect x="1621.5" y="275.9" width="61.1" height="16.5" rx="28.1" ry="8.2" fill="#000" opacity="1" filter="url(#b2)"/>
<ellipse cx="1727.8" cy="285.6" rx="38.2" ry="11.6" fill="#777" opacity="0.33" filter="url(#b6)"/>
<rect x="1692.6" y="280.0" width="70.4" height="13.2" rx="22.4" ry="6.6" fill="#000" opacity="1" filter="url(#b2)"/>
<ellipse cx="1816.5" cy="284.4" rx="40.0" ry="11.6" fill="#777" opacity="0.33" filter="url(#b6)"/>
<rect x="1779.4" y="278.8" width="74.1" height="13.2" rx="22.4" ry="6.6" fill="#000" opacity="1" filter="url(#b2)"/>
<circle cx="1837.5" cy="302.6" r="1.1" fill="#333"/>
</g>
<text x="1196.8" y="229.0" font-size="27.6" text-anchor="end" font-weight="normal" >FCN3</text>
<text x="1197.8" y="291.5" font-size="28.0" text-anchor="end" font-weight="normal" >α-Tubulin</text>
<text x="1305.5" y="118.5" font-size="29.3" text-anchor="middle" font-weight="normal" >PAT37</text>
<rect x="1249.8" y="130" width="114.1" height="4.4" fill="#000"/>
<text x="1456.2" y="118.5" font-size="29.3" text-anchor="middle" font-weight="normal" >PAT38</text>
<rect x="1396.4" y="130" width="114.1" height="4.4" fill="#000"/>
<text x="1614.5" y="118.5" font-size="29.3" text-anchor="middle" font-weight="normal" >PAT69</text>
<rect x="1552.6" y="130" width="113.8" height="4.4" fill="#000"/>
<text x="1769.6" y="118.5" font-size="29.3" text-anchor="middle" font-weight="normal" >PAT71</text>
<rect x="1714.4" y="130" width="113.8" height="4.4" fill="#000"/>
<text x="1269.5" y="171.4" font-size="28.7" text-anchor="middle" font-weight="normal" >N</text>
<text x="1425.3" y="173.0" font-size="28.7" text-anchor="middle" font-weight="normal" >N</text>
<text x="1576.7" y="170.7" font-size="28.7" text-anchor="middle" font-weight="normal" >N</text>
<text x="1737.8" y="173.0" font-size="28.7" text-anchor="middle" font-weight="normal" >N</text>
<text x="1346.5" y="170.7" font-size="28.7" text-anchor="middle" font-weight="normal" >T</text>
<text x="1502.2" y="173.0" font-size="28.7" text-anchor="middle" font-weight="normal" >T</text>
<text x="1653.7" y="170.7" font-size="28.7" text-anchor="middle" font-weight="normal" >T</text>
<text x="1814.6" y="173.0" font-size="28.7" text-anchor="middle" font-weight="normal" >T</text>
<text x="1880.6" y="173.2" font-size="29.0" text-anchor="start" font-weight="normal" >(kDa)</text>
<text x="1881.4" y="228.0" font-size="27.6" text-anchor="start" font-weight="normal" >37</text>
<text x="1881.4" y="296.8" font-size="27.6" text-anchor="start" font-weight="normal" >50</text>
<g>
<rect x="1260.8" y="433.6" width="594.2" height="428.7" fill="none" stroke="#333" stroke-width="1.6"/>
<path d="M1659.7,433.6V495H1855" fill="none" stroke="#222" stroke-width="1.6"/>
<line x1="1249" x2="1260.8" y1="448.6" y2="448.6" stroke="#555" stroke-width="1.3"/>
<text x="1243.2" y="464.6" font-size="24.0" text-anchor="end" font-weight="normal" >1.0</text>
<line x1="1249" x2="1260.8" y1="529.2" y2="529.2" stroke="#555" stroke-width="1.3"/>
<text x="1243.2" y="542.4" font-size="24.0" text-anchor="end" font-weight="normal" >0.8</text>
<line x1="1249" x2="1260.8" y1="607.8" y2="607.8" stroke="#555" stroke-width="1.3"/>
<text x="1243.2" y="619.6" font-size="24.0" text-anchor="end" font-weight="normal" >0.6</text>
<line x1="1249" x2="1260.8" y1="687.8" y2="687.8" stroke="#555" stroke-width="1.3"/>
<text x="1243.2" y="697.4" font-size="24.0" text-anchor="end" font-weight="normal" >0.4</text>
<line x1="1249" x2="1260.8" y1="766.5" y2="766.5" stroke="#555" stroke-width="1.3"/>
<text x="1243.2" y="776.0" font-size="24.0" text-anchor="end" font-weight="normal" >0.2</text>
<line x1="1249" x2="1260.8" y1="846.0" y2="846.0" stroke="#555" stroke-width="1.3"/>
<text x="1243.2" y="854.8" font-size="24.0" text-anchor="end" font-weight="normal" >0.0</text>
<line x1="1260.8" x2="1260.8" y1="862.3" y2="872.2" stroke="#555" stroke-width="1.3"/>
<text x="1244.5" y="908.2" font-size="24.0" text-anchor="middle" font-weight="normal" >0</text>
<line x1="1338.6" x2="1338.6" y1="862.3" y2="872.2" stroke="#555" stroke-width="1.3"/>
<text x="1330.4" y="908.2" font-size="24.0" text-anchor="middle" font-weight="normal" >500</text>
<line x1="1416.5" x2="1416.5" y1="862.3" y2="872.2" stroke="#555" stroke-width="1.3"/>
<text x="1408.0" y="908.2" font-size="24.0" text-anchor="middle" font-weight="normal" >1000</text>
<line x1="1494.3" x2="1494.3" y1="862.3" y2="872.2" stroke="#555" stroke-width="1.3"/>
<text x="1483.7" y="908.2" font-size="24.0" text-anchor="middle" font-weight="normal" >1500</text>
<line x1="1572.1" x2="1572.1" y1="862.3" y2="872.2" stroke="#555" stroke-width="1.3"/>
<text x="1561.8" y="908.2" font-size="24.0" text-anchor="middle" font-weight="normal" >2000</text>
<line x1="1649.9" x2="1649.9" y1="862.3" y2="872.2" stroke="#555" stroke-width="1.3"/>
<text x="1636.5" y="908.2" font-size="24.0" text-anchor="middle" font-weight="normal" >2500</text>
<line x1="1727.8" x2="1727.8" y1="862.3" y2="872.2" stroke="#555" stroke-width="1.3"/>
<text x="1713.7" y="908.2" font-size="24.0" text-anchor="middle" font-weight="normal" >3000</text>
<line x1="1805.6" x2="1805.6" y1="862.3" y2="872.2" stroke="#555" stroke-width="1.3"/>
<text x="1795.0" y="908.2" font-size="24.0" text-anchor="middle" font-weight="normal" >3500</text>
<path d="M1260.8,448.4 H1297.9 V465.4 H1332.2 V483.8 H1335.7 V502.2 H1378.4 V523 H1471.7 V559.8 H1473.9 V595.4 H1514.1 V645.6 H1831.8" fill="none" stroke="#ff1a1a" stroke-width="2"/>
<path d="M1260.8,448.4 H1277.7 V461.2 H1286.2 V473.2 H1288.3 V485.2 H1299.6 V497.2 H1303.2 V521.2 H1320.8 V533.6 H1326.9 V547.7 H1331.4 V560.8 H1361.5 V574.2 H1378.4 V589.1 H1400.4 V606 H1413.1 V623.7 H1414.5 V640.3 H1438.2 V658.7 H1452.3 V678.1 H1456.2 V699.3 H1460.4 V723.8 H1632.1 V764 H1768.2" fill="none" stroke="#1414ff" stroke-width="2"/>
<line x1="1678.7" x2="1717" y1="453.5" y2="453.5" stroke="#1414ff" stroke-width="2"/>
<line x1="1678.7" x2="1717" y1="474.4" y2="474.4" stroke="#ff1a1a" stroke-width="2"/>
<text x="1734.0" y="461.9" font-size="18.7" text-anchor="start" font-weight="normal" textLength="111.2" lengthAdjust="spacingAndGlyphs" fill="#222">LOW (n=34)</text>
<text x="1734.0" y="482.4" font-size="18.7" text-anchor="start" font-weight="normal" textLength="112.2" lengthAdjust="spacingAndGlyphs" fill="#222">HIGH (n=24)</text>
<text x="1683.0" y="849.6" font-size="18.3" text-anchor="start" font-weight="normal" textLength="161.5" lengthAdjust="spacingAndGlyphs" fill="#222">threshold = -4.744</text>
<text x="1561.7" y="414.9" font-size="28.2" text-anchor="middle" font-weight="normal" >TCGA LUAD (58)</text>
<text x="1294.0" y="804.0" font-size="28.0" text-anchor="start" font-weight="normal" >P-value = 0.018609</text>
<text x="1561.2" y="955.2" font-size="28.0" text-anchor="middle" font-weight="normal" >Survival Time (Days)</text>
<text transform="translate(1165.2,674.8) rotate(-90)" font-size="27.8" text-anchor="middle" >Probability of overall survival</text>
</g>
</svg>
</body></html>
